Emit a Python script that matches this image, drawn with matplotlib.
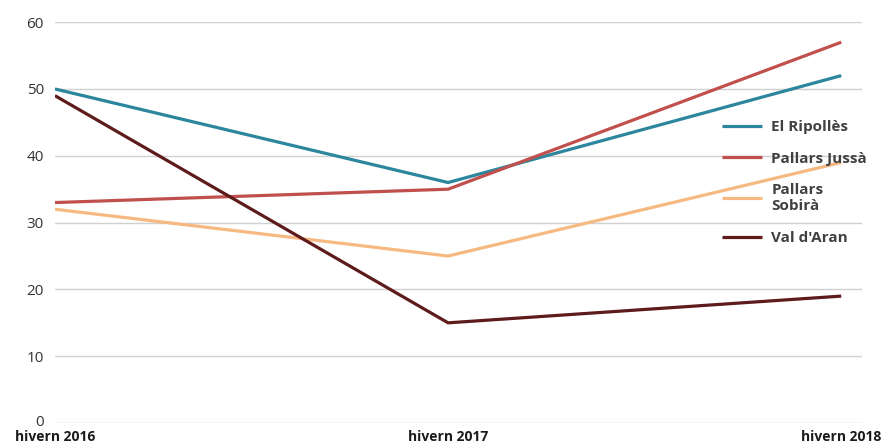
import matplotlib
matplotlib.use("Agg")
import matplotlib.pyplot as plt
import matplotlib.transforms as mtransforms

categories = ["hivern 2016", "hivern 2017", "hivern 2018"]
series_names = ["El Ripollès", "Pallars Jussà", "Pallars\nSobirà", "Val d'Aran"]
ripolles = [50, 36, 52]
pallars_jussa = [33, 35, 57]
pallars_sobira = [32, 25, 39]
val_daran = [49, 15, 19]
yticks = [0, 10, 20, 30, 40, 50, 60]

colors = ["#2C869E", "#C0504D", "#F7B982", "#5E1B1C"]

plt.rcParams['font.family'] = ['Open Sans', 'DejaVu Sans']

fig = plt.figure(figsize=(8.86, 4.43), dpi=100)
ax = fig.add_axes([0.062, 0.045, 0.911, 0.905])

x = list(range(len(categories)))
for vals, name, c in zip([ripolles, pallars_jussa, pallars_sobira, val_daran], series_names, colors):
    ax.plot(x, vals, color=c, lw=2.3, label=name, solid_capstyle='butt')

ax.set_xlim(0, 2.053)
ax.set_ylim(0, 60)
ax.set_yticks(yticks)
ax.set_yticklabels([str(v) for v in yticks], fontsize=11, color="#333333")
ax.set_xticks(x)
ax.set_xticklabels(categories, fontsize=10, fontweight='bold', color="#1a1a1a")
ax.tick_params(axis='both', length=0)
ax.tick_params(axis='x', pad=5)
ax.tick_params(axis='y', pad=8)
ax.grid(axis='y', color="#d0d0d0", lw=1)
ax.set_axisbelow(True)
for s in ax.spines.values():
    s.set_visible(False)

# nudge the "0" label up slightly so it sits above the first category label
zero_lbl = ax.get_yticklabels()[0]
zero_lbl.set_transform(zero_lbl.get_transform() + mtransforms.ScaledTranslation(0, 3 / 100, fig.dpi_scale_trans))

leg = ax.legend(loc='upper left', bbox_to_anchor=(0.81, 0.79), frameon=False,
                handlelength=2.6, handletextpad=0.6, labelspacing=1.15,
                prop={'weight': 'bold', 'size': 11})
for t in leg.get_texts():
    t.set_color("#404040")

fig.savefig("out.png", dpi=100)
